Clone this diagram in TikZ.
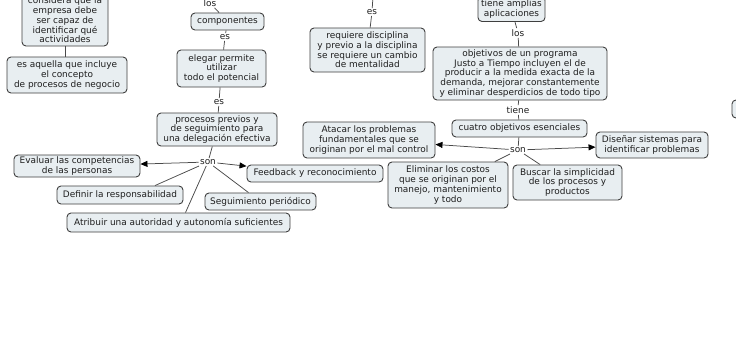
\documentclass[tikz,border=0pt]{standalone}
\usepackage{fontspec}
\setmainfont{DejaVu Sans}
\usetikzlibrary{arrows.meta}
\definecolor{boxfill}{HTML}{E8EEF1}
\definecolor{boxline}{HTML}{3F3F3F}
\definecolor{txt}{HTML}{1E1E1E}
\definecolor{lnk}{HTML}{4A4A4A}
\begin{document}
\begin{tikzpicture}[x=1pt,y=-1pt,
  box/.style={draw=boxline, fill=boxfill, line width=0.9pt, rounded corners=4pt, align=center,
    font=\fontsize{8.95}{9.7}\selectfont, text=txt, inner sep=1pt},
  lbl/.style={font=\fontsize{8.95}{9.7}\selectfont, text=txt, inner sep=1.2pt},
  link/.style={draw=lnk, line width=0.75pt},
  arr/.style={link, -{Triangle[length=7pt,width=6pt,fill=black,color=black]}}]
\useasboundingbox (0,0) rectangle (736,360);
\fill[white] (0,0) rectangle (736,360);
\clip (0,0) rectangle (736,360);

% left column
\node[box, minimum width=86pt, minimum height=52pt] (A) at (65,20) {considera que la\\empresa debe\\ser capaz de\\identificar qué\\actividades};
\node[box, minimum width=120pt, minimum height=36pt] (B) at (67,75) {es aquella que incluye\\el concepto\\de procesos de negocio};
\draw[link] (A.south) -- (A.south |- B.north);

% componentes chain
\node[lbl] (L1) at (210,3) {los};
\node[box, minimum width=73pt, minimum height=17pt] (C) at (227.5,21.5) {componentes};
\node[lbl] (E1) at (225,37) {es};
\node[box, minimum width=89pt, minimum height=37pt] (D) at (221.5,68.5) {elegar permite\\utilizar\\todo el potencial};
\node[lbl] (E2) at (219,102) {es};
\node[box, minimum width=120pt, minimum height=33pt] (F) at (217,129.5) {procesos previos y\\de seguimiento para\\una delegación efectiva};
\node[lbl] (S1) at (208,162) {son};
\node[box, minimum width=126pt, minimum height=22pt] (G) at (77,166) {Evaluar las competencias\\de las personas};
\node[box, minimum width=136pt, minimum height=17pt] (H) at (315,173.5) {Feedback y reconocimiento};
\node[box, minimum width=126pt, minimum height=18pt] (I) at (120,195) {Definir la responsabilidad};
\node[box, minimum width=111pt, minimum height=17pt] (J) at (260.5,201.5) {Seguimiento periódico};
\node[box, minimum width=223pt, minimum height=19pt] (K) at (178.5,222.5) {Atribuir una autoridad y autonomía suficientes};

\draw[link] (L1) -- (C);
\draw[link] (C) -- (E1);
\draw[link] (E1) -- (D);
\draw[link] (D) -- (E2);
\draw[link] (E2) -- (F);
\draw[link] (F) -- (S1);
\draw[arr] (S1) -- (G);
\draw[arr] (S1) -- (H);
\draw[link] (S1) -- ([xshift=35pt]I.north);
\draw[link] (S1) -- ([xshift=-12pt]J.north);
\draw[link] (S1) -- ([xshift=7pt]K.north);

% middle
\coordinate (Mtop) at (373,-4);
\node[lbl] (E3) at (372,12) {es};
\node[box, minimum width=115pt, minimum height=44pt] (M) at (367.5,50) {requiere disciplina\\y previo a la disciplina\\se requiere un cambio\\de mentalidad};
\draw[link] (Mtop) -- (E3);
\draw[link] (E3) -- (M);

% right
\node[box, minimum width=67pt, minimum height=25pt] (N) at (511.5,9) {tiene amplias\\aplicaciones};
\node[lbl] (L2) at (518,33) {los};
\node[box, minimum width=174pt, minimum height=53pt] (O) at (520,73.5) {objetivos de un programa\\Justo a Tiempo incluyen el de\\producir a la medida exacta de la\\demanda, mejorar constantemente\\y eliminar desperdicios de todo tipo};
\node[lbl] (T) at (518,110) {tiene};
\node[box, minimum width=135pt, minimum height=17pt] (P) at (519.5,128.5) {cuatro objetivos esenciales};
\node[lbl] (S2) at (518,150) {son};
\node[box, minimum width=132pt, minimum height=36pt] (Q) at (369,140) {Atacar los problemas\\fundamentales que se\\originan por el mal control};
\node[box, minimum width=112pt, minimum height=26pt] (R) at (652,145) {Diseñar sistemas para\\identificar problemas};
\node[box, minimum width=120pt, minimum height=46pt] (U) at (448,185) {Eliminar los costos\\que se originan por el\\manejo, mantenimiento\\y todo};
\node[box, minimum width=109pt, minimum height=35pt] (V) at (567.5,182.5) {Buscar la simplicidad\\de los procesos y\\productos};
\node[box, minimum width=60pt, minimum height=18pt] (W) at (762,109) {};

\draw[link] (N) -- (L2);
\draw[link] (L2) -- (O);
\draw[link] (O) -- (T);
\draw[link] (T) -- (P);
\draw[link] (P) -- (S2);
\draw[arr] (S2) -- (Q);
\draw[arr] (S2) -- (R);
\draw[link] (S2) -- (U);
\draw[link] (S2) -- (V);
\end{tikzpicture}
\end{document}
